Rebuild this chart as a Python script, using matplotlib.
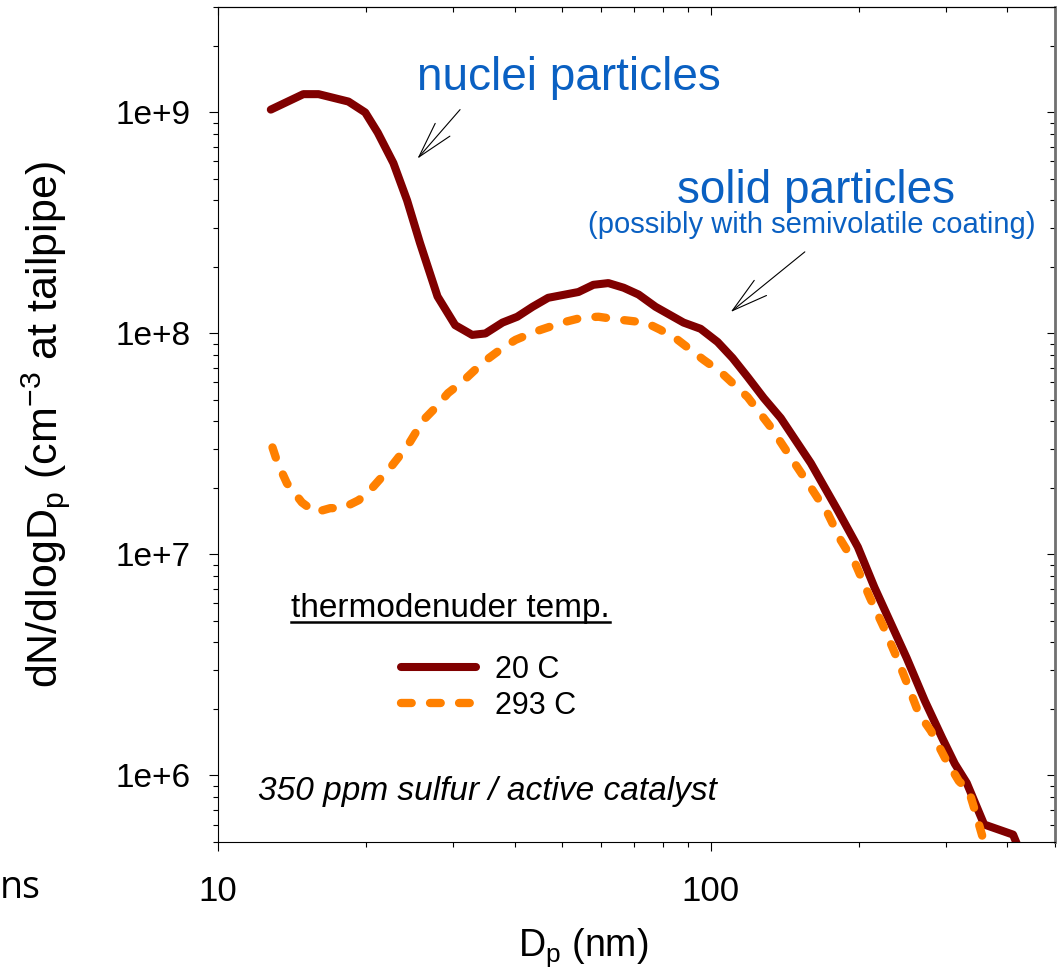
import numpy as np
import matplotlib
matplotlib.use('Agg')
import matplotlib.pyplot as plt
from matplotlib.ticker import FuncFormatter, NullFormatter
from matplotlib.lines import Line2D

plt.rcParams['font.family'] = ['Liberation Sans', 'DejaVu Sans']
plt.rcParams['mathtext.fontset'] = 'custom'
plt.rcParams['mathtext.rm'] = 'Liberation Sans'
plt.rcParams['mathtext.it'] = 'Liberation Sans:italic'
plt.rcParams['lines.scale_dashes'] = False

# particle diameter (nm) and number concentration, thermodenuder at 20 C
dp_20 = [12.8, 14.9, 16.0, 18.4, 19.9, 21.1, 22.7, 24.2, 25.7, 27.9, 30.3, 32.8,
         34.9, 37.8, 40.5, 43.5, 46.8, 53.9, 57.8, 62.0, 66.6, 71.4, 77.3, 88.1,
         95.4, 103.3, 110.8, 118.9, 128.2, 138.8, 159.7, 181.2, 199, 215, 231,
         250, 272, 295, 313, 331, 359, 411, 420]
n_20 = [1.03e9, 1.21e9, 1.21e9, 1.12e9, 1.0e9, 8.1e8, 5.9e8, 4.0e8, 2.57e8,
        1.47e8, 1.09e8, 9.85e7, 1.0e8, 1.12e8, 1.19e8, 1.32e8, 1.45e8, 1.54e8,
        1.66e8, 1.69e8, 1.61e8, 1.50e8, 1.32e8, 1.12e8, 1.05e8, 9.15e7, 7.74e7,
        6.35e7, 5.1e7, 4.14e7, 2.59e7, 1.58e7, 1.08e7, 7.1e6, 5.0e6, 3.4e6,
        2.18e6, 1.48e6, 1.13e6, 9.25e5, 6.0e5, 5.4e5, 4.8e5]

# thermodenuder at 293 C
dp_293 = [12.9, 13.2, 13.8, 14.8, 15.75, 16.9, 17.9, 19.3, 20.6, 22.6, 24.3,
          26.1, 27.6, 29.3, 31.3, 34.4, 37.8, 40.2, 44.1, 50.0, 54.9, 59.2,
          64.1, 73.8, 79, 85.7, 96.8, 104.8, 118.9, 132.4, 145.4, 159.7, 172.9,
          183.7, 197, 210.5, 224.7, 238.8, 252.6, 264.7, 280, 299, 319, 334.5,
          345.6, 357, 362]
n_293 = [3.05e7, 2.61e7, 2.10e7, 1.72e7, 1.55e7, 1.62e7, 1.62e7, 1.76e7, 2.01e7,
         2.54e7, 3.12e7, 4.05e7, 4.6e7, 5.37e7, 6.03e7, 7.35e7, 8.6e7, 9.36e7,
         1.02e8, 1.12e8, 1.18e8, 1.19e8, 1.16e8, 1.12e8, 1.04e8, 9.36e7, 7.59e7,
         6.69e7, 5.15e7, 3.77e7, 2.75e7, 2.01e7, 1.53e7, 1.16e7, 9.0e6, 6.38e6,
         4.67e6, 3.41e6, 2.49e6, 1.90e6, 1.59e6, 1.20e6, 9.44e5, 8.5e5, 6.69e5,
         5.2e5, 4.6e5]

labels = ['20 C', '293 C']
blue = '#0A60C2'

fig = plt.figure(figsize=(10.57, 9.71), dpi=100)
ax = fig.add_axes([218 / 1057, 1 - 842 / 971, 837 / 1057, 835 / 971])

l1, = ax.plot(dp_20, n_20, color='#800000', lw=5.8,
              solid_capstyle='round', solid_joinstyle='round', label=labels[0])
l2, = ax.plot(dp_293, n_293, color='#FF8000', lw=6.0, dashes=(7.7, 13.2),
              dash_capstyle='round', dash_joinstyle='round', label=labels[1])

ax.set_xscale('log')
ax.set_yscale('log')
ax.set_xlim(10, 500)
ax.set_ylim(5e5, 3e9)

ax.xaxis.set_major_formatter(FuncFormatter(lambda v, p: '%g' % v))
ax.xaxis.set_minor_formatter(NullFormatter())
ax.yaxis.set_major_formatter(FuncFormatter(lambda v, p: '1e+%d' % round(np.log10(v))))
ax.yaxis.set_minor_formatter(NullFormatter())

ax.tick_params(which='both', direction='out', top=False, right=False, width=0.8)
ax.tick_params(which='major', length=6.3)
ax.tick_params(which='minor', length=3.6)
ax.tick_params(axis='x', which='major', labelsize=25, pad=17.5)
ax.tick_params(axis='y', which='major', labelsize=24, pad=13.5)
for s in ax.spines.values():
    s.set_linewidth(0.8)
ax.spines['right'].set_color('#707070')
ax.spines['right'].set_linewidth(2)

# inward ticks on top and right
secx = ax.secondary_xaxis('top')
secx.tick_params(which='both', direction='in', labeltop=False, width=0.8)
secx.tick_params(which='major', length=6)
secx.tick_params(which='minor', length=3.6)
secx.xaxis.set_minor_formatter(NullFormatter())
secy = ax.secondary_yaxis('right')
secy.tick_params(which='both', direction='in', labelright=False, width=0.8)
secy.tick_params(which='major', length=6)
secy.tick_params(which='minor', length=3.6)
secy.yaxis.set_minor_formatter(NullFormatter())

ax.set_ylabel(r'dN/dlogD$_\mathregular{p}$ (cm$^\mathregular{-3}$ at tailpipe)', fontsize=31)
ax.yaxis.set_label_coords(-0.174, 0.5)
ax.set_xlabel(r'D$_\mathregular{p}$ (nm)', fontsize=27, va='top')
ax.xaxis.set_label_coords(0.436, -0.101)

# annotations
ax.text(0.2378, 0.9006, 'nuclei particles', transform=ax.transAxes,
        fontsize=33, color=blue, va='baseline', ha='left')
ax.text(0.7145, 0.7653, 'solid particles', transform=ax.transAxes,
        fontsize=33, color=blue, va='baseline', ha='center')
ax.text(0.7097, 0.7293, '(possibly with semivolatile coating)', transform=ax.transAxes,
        fontsize=21, color=blue, va='baseline', ha='center')
arrow = dict(arrowstyle='->, head_length=26, head_width=7', mutation_scale=1,
             lw=0.8, color='black', shrinkA=0, shrinkB=0)
ax.annotate('', xy=(25.4, 6.18e8), xytext=(31.0, 1.03e9), arrowprops=arrow)
ax.annotate('', xy=(109.8, 1.25e8), xytext=(155.3, 2.34e8), arrowprops=arrow)

ax.text(0.0478, 0.0503, '350 ppm sulfur / active catalyst', transform=ax.transAxes,
        fontsize=24, style='italic', va='baseline', ha='left')

title = ax.text(0.0872, 0.2695, 'thermodenuder temp.', transform=ax.transAxes,
                fontsize=24, va='baseline', ha='left')
ax.legend(handles=[l1, l2], loc='upper left', bbox_to_anchor=(0.2186, 0.224),
          frameon=False, fontsize=22, handlelength=2.45, handletextpad=0.62,
          labelspacing=0.2, borderpad=0, borderaxespad=0)

fig.text(0.0, 1 - 898 / 971, 'ns', fontsize=27, family='Open Sans', va='baseline')

# underline the legend title
fig.canvas.draw()
bb = title.get_window_extent()
W, H = fig.bbox.width, fig.bbox.height
y_ul = (971 - 622) / 971
fig.add_artist(Line2D([bb.x0 / W, bb.x1 / W], [y_ul, y_ul], color='black', lw=1.8))

fig.savefig('out.png', dpi=100)
